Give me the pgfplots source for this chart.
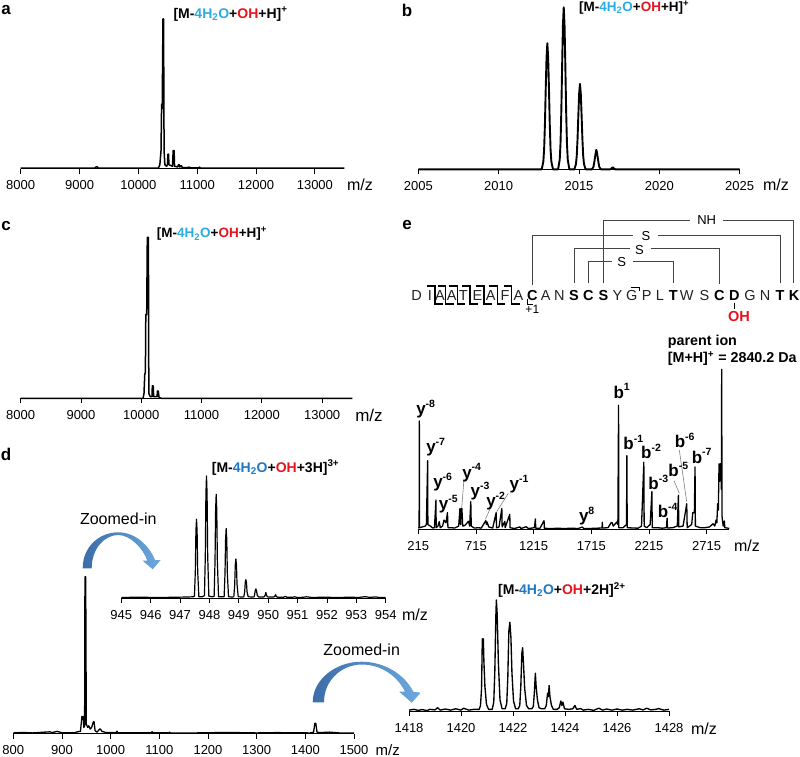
\documentclass[border=0pt]{standalone}
\usepackage{pgfplots}
\pgfplotsset{compat=1.18}
\usepackage{fontspec}
\setmainfont{Liberation Sans}
\definecolor{ioncyan}{HTML}{2BACE2}
\definecolor{ionblue}{HTML}{1F78C4}
\definecolor{ionred}{HTML}{E6141E}
\definecolor{arrowD}{HTML}{3B6DA8}
\definecolor{arrowL}{HTML}{6DA9DF}
\definecolor{linkgray}{HTML}{444444}
\definecolor{seqgray}{HTML}{222222}
\newcommand{\ionlabel}[4]{{\fontsize{#4}{#4}\selectfont\bfseries [M-\textcolor{#1}{4H\textsubscript{2}O}+\textcolor{ionred}{OH}+#2]\textsuperscript{#3}}}
\newcommand{\fs}[1]{\fontsize{#1}{#1}\selectfont}
\newcommand{\frag}[3]{\node[font=\fs{17}\bfseries,inner sep=0pt] at (#1) {#2\raisebox{0.42em}{\fs{10.5}\bfseries #3}};}
\pgfplotsset{
  spec/.style={
    scale only axis, axis x line=bottom, axis line style={-,line width=0.9pt},
    axis y line=none, ymin=0, ymax=100, clip=false,
    tick align=outside, major tick length=5pt,
    x tick style={black,line width=0.9pt},
    xtick pos=bottom, scaled x ticks=false,
    xticklabel style={font=\fs{13},anchor=north,inner sep=0pt,yshift=-6.8pt,
      /pgf/number format/assume math mode=true,/pgf/number format/1000 sep={}},
    /pgf/number format/1000 sep={},
  },
  trace/.style={black,line width=1.5pt,line join=round,no marks,sharp plot},
}
\begin{document}
\begin{tikzpicture}[x=1pt,y=-1pt]
\useasboundingbox (0,0) rectangle (800,757);

% ---------- a
\begin{axis}[spec,at={(20.7pt,-168.5pt)},anchor=south west,width=323.6pt,height=149.5pt,
  xmin=8000,xmax=13500,xtick={8000,9000,10000,11000,12000,13000}]
\addplot[trace] coordinates {(8000,.3)(9260,.3)(9285,1.1)(9300,1.1)(9320,.3)(10340,.3)(10365,2.5)(10385,12)(10395,43)(10405,40)(10418,100)(10428,100)(10437,12)(10450,2.5)(10480,1.5)(10495,3)(10502,9.6)(10512,9.6)(10520,2.5)(10580,1.5)(10592,12)(10607,12)(10615,1.5)(10670,1)(10680,2.5)(10695,2.5)(10705,1)(10725,1.8)(10735,1.8)(10745,.6)(10840,.6)(10860,.9)(10900,.4)(11030,.4)(11040,.9)(11050,.3)(13500,.3)};
\end{axis}
% ---------- b
\begin{axis}[spec,at={(418.3pt,-169.3pt)},anchor=south west,width=321.4pt,height=162pt,
  xmin=2005,xmax=2025,xtick={2005,2010,2015,2020,2025}]
\addplot[black,line width=1.9pt,line join=round,no marks,sharp plot] coordinates {(2005,0)(2012.68,0)(2012.78,4.7)(2012.83,12.4)(2012.88,28)(2012.93,50)(2012.98,69)(2013.03,77.8)(2013.08,69)(2013.13,50)(2013.18,28)(2013.23,12.4)(2013.28,4.7)(2013.38,0)
(2013.70,0)(2013.80,6)(2013.85,16)(2013.90,36)(2013.95,64)(2014.00,89)(2014.05,100)(2014.10,89)(2014.15,64)(2014.20,36)(2014.25,16)(2014.30,6)(2014.40,0)
(2014.71,0)(2014.81,3.2)(2014.86,8.4)(2014.91,19)(2014.96,33.7)(2015.01,47)(2015.06,52.7)(2015.11,47)(2015.16,33.7)(2015.21,19)(2015.26,8.4)(2015.31,3.2)(2015.41,0)
(2015.80,0)(2015.90,1.5)(2015.95,4.3)(2016.00,7.7)(2016.05,10.7)(2016.08,12)(2016.11,10.7)(2016.16,7.7)(2016.21,4.3)(2016.26,1.5)(2016.36,0)
(2016.95,0)(2017.03,.6)(2017.10,1.2)(2017.17,.6)(2017.25,0)(2025,0)};
\end{axis}
% ---------- c
\begin{axis}[spec,at={(20.7pt,-398.3pt)},anchor=south west,width=331.6pt,height=161pt,
  xmin=8000,xmax=13500,xtick={8000,9000,10000,11000,12000,13000}]
\addplot[trace] coordinates {(8000,0)(10030,0)(10045,3)(10058,15)(10068,16)(10075,52)(10090,52)(10100,100)(10118,100)(10125,3)(10150,1)(10178,1)(10183,7.7)(10198,7.7)(10205,1)(10262,1)(10268,4.5)(10282,4.5)(10295,.5)(10330,0)(13500,0)};
\end{axis}
% ---------- d main
\begin{axis}[spec,at={(13.3pt,-733.7pt)},anchor=south west,width=340.7pt,height=157pt,
  xmin=800,xmax=1500,xtick={800,900,1000,1100,1200,1300,1400,1500}]
\addplot[black,line width=1.3pt,line join=round,no marks,sharp plot] coordinates {(800,.5)(820,.8)(840,.5)(860,.9)(875,1.2)(880,.7)(890,1.5)(900,.6)(925,.6)(932,1.2)(938,1.5)(941,11)(943.5,11)(945,4)(946.5,5)(947.2,100)(948.8,100)(950,6)(953,4)(955,5)(958,3)(961,4)(964.5,7.6)(966,7.6)(968,2)(972,1)(977.5,3)(979,3)(982,1.5)(990,.8)(1012,.8)(1013,1.6)(1015,.6)(1084,.6)(1085,1.3)(1087,.6)(1120,.6)(1121,1)(1123,.5)(1175,.5)(1240,.8)(1300,.5)(1340,.7)(1410,.5)(1417,1)(1419.5,6.6)(1421.5,6.6)(1424,1)(1430,.7)(1450,1)(1470,.5)(1500,.5)};
\end{axis}
% ---------- d inset 1
\begin{axis}[spec,at={(121.3pt,-598pt)},anchor=south west,width=264.4pt,height=122pt,
  xmin=945,xmax=954,xtick={945,946,947,948,949,950,951,952,953,954}]
\addplot[black,line width=1.2pt,line join=round,no marks,sharp plot] coordinates {(945,.4)(945.6,.7)(946.2,.4)(946.8,.6)(947.2,.8)(947.45,1)(947.49,1.5)(947.52,22)(947.54,55)(947.56,64.5)(947.58,55)(947.60,22)(947.64,1)(947.76,1)(947.83,2)(947.86,35)(947.88,85)(947.90,100)(947.92,85)(947.94,35)(947.98,1.5)(948.10,1)(948.16,1.5)(948.19,30)(948.21,72)(948.23,85)(948.25,72)(948.27,30)(948.31,1)(948.44,1)(948.50,1)(948.53,20)(948.55,48)(948.57,57)(948.59,48)(948.61,20)(948.65,1)(948.78,.8)(948.83,1)(948.86,11)(948.88,27)(948.90,32)(948.92,27)(948.94,11)(948.98,1)(949.12,.8)(949.17,1)(949.20,5)(949.22,13)(949.24,15)(949.26,13)(949.28,5)(949.32,1)(949.46,.8)(949.52,1)(949.54,3)(949.56,6.3)(949.58,7.4)(949.60,6.3)(949.63,2)(949.68,.8)(949.85,.8)(949.89,1.8)(949.92,4.5)(949.95,1.8)(949.99,.8)(950.18,.8)(950.22,1.2)(950.25,2.7)(950.28,1.2)(950.33,.6)(950.52,.6)(950.58,1.4)(950.64,.6)(950.85,.7)(950.9,1)(951,.4)(951.2,.6)(951.3,1)(951.5,.4)(951.9,.7)(952.3,.4)(952.7,.6)(953.1,.5)(953.3,1.1)(953.45,.5)(953.65,.9)(953.8,.4)(954,.5)};
\end{axis}
% ---------- d inset 2
\begin{axis}[spec,at={(409pt,-711pt)},anchor=south west,width=260pt,height=111pt,
  xmin=1418,xmax=1428,xtick={1418,1420,1422,1424,1426,1428}]
\addplot[black,line width=1.35pt,line join=round,no marks,sharp plot] coordinates {(1418,.8)(1418.2,1.5)(1418.35,.5)(1418.5,1.3)(1418.7,.4)(1418.8,1.5)(1419,1)(1419.1,3)(1419.2,.8)(1419.4,1.8)(1419.6,.8)(1419.8,2)(1420,.8)(1420.1,2.5)(1420.3,.8)(1420.5,1.5)(1420.7,1.5)(1420.75,5)(1420.79,20)(1420.82,65)(1420.86,65)(1420.88,45)(1420.92,22)(1420.98,6)(1421.06,1.5)(1421.2,1.5)(1421.26,8)(1421.3,35)(1421.34,85)(1421.36,100)(1421.39,88)(1421.44,42)(1421.5,10)(1421.58,2)(1421.7,2)(1421.76,7)(1421.8,30)(1421.84,72)(1421.88,80)(1421.92,66)(1421.96,34)(1422.02,9)(1422.1,2)(1422.2,2)(1422.26,5)(1422.3,22)(1422.34,52)(1422.37,57)(1422.4,44)(1422.45,20)(1422.52,5)(1422.6,2)(1422.72,2)(1422.78,4)(1422.82,16)(1422.86,34)(1422.89,22)(1422.94,10)(1423,3)(1423.1,2)(1423.22,2)(1423.28,5)(1423.33,16)(1423.36,13)(1423.39,23)(1423.42,13)(1423.48,5)(1423.55,1.5)(1423.7,1.5)(1423.78,3)(1423.84,9)(1423.88,5)(1423.92,8)(1423.98,2)(1424.15,1.5)(1424.3,2)(1424.38,5)(1424.45,1.5)(1424.6,2.2)(1424.7,.8)(1424.9,1.5)(1425.1,.6)(1425.3,2.5)(1425.45,.8)(1425.6,1.8)(1425.8,.8)(1426,1.8)(1426.2,.8)(1426.4,1.5)(1426.6,.8)(1426.85,2)(1427,1)(1427.15,2.5)(1427.3,1)(1427.5,1.5)(1427.6,2.2)(1427.8,.8)(1428,1.5)};
\end{axis}
% ---------- e spectrum
\begin{axis}[spec,at={(418.3pt,-529.3pt)},anchor=south west,width=311pt,height=160pt,
  xmin=215,xmax=2911,xtick={215,715,1215,1715,2215,2715}]
\addplot[black,line width=1.3pt,line join=round,no marks,sharp plot] coordinates {(215,.8)(222,1)(224,67.7)(226,1)(250,1.5)(275,2)(285,3)(296,42.9)(298,3)(320,2)(340,.8)(355,1)(368,18.3)(370,1)(385,2)(397,4.8)(405,1)(425,2)(438,5.8)(455,4)(468,10.4)(472,1)(500,1)(530,.8)(565,2)(576,13)(582,3)(587,13)(593,13)(600,2)(620,2.5)(650,5)(660,2)(670,17.3)(674,2)(700,.8)(740,1)(760,.7)(800,5.4)(806,3)(812,4.5)(825,1.5)(860,.8)(890,10.4)(893,.9)(915,1.5)(939,13)(942,1.5)(965,5)(968,1)(1008,9.4)(1010,1)(1050,.5)(1095,1.5)(1105,.5)(1150,1.6)(1170,.5)(1222,1)(1230,6.5)(1233,.7)(1270,.7)(1305,5.4)(1308,.6)(1380,.5)(1430,.7)(1480,.4)(1530,.7)(1600,.5)(1637,1.4)(1650,.5)(1700,.5)(1760,.7)(1808,.8)(1810,4.4)(1812,.8)(1860,1)(1885,4)(1895,4.2)(1905,2)(1935,4.5)(1945,3)(1951,77.5)(1953,1)(1990,1)(2020,3)(2023,46)(2026,1)(2080,.8)(2120,.7)(2150,2)(2170,41.9)(2173,2)(2195,1)(2225,3)(2240,23.5)(2243,1)(2290,1)(2330,.7)(2365,1)(2372,6.9)(2375,.8)(2420,1)(2460,2)(2470,21.3)(2473,1.5)(2510,2)(2542,16)(2546,1)(2585,3)(2594,10.4)(2608,10.4)(2614,39)(2617,2)(2660,1)(2700,1)(2740,1.5)(2770,3.5)(2785,2)(2796,5.8)(2803,4)(2810,16)(2816,12)(2822,41)(2828,30)(2833,41)(2838,41)(2842,25)(2845,100)(2848,8)(2858,2)(2868,5.2)(2872,1)(2911,.6)};
\end{axis}

% ---------- panel letters and axis names
\node[font=\fs{17}\bfseries] at (6,10) {a};
\node[font=\fs{17}\bfseries] at (407,10) {b};
\node[font=\fs{17}\bfseries] at (6,226) {c};
\node[font=\fs{17}\bfseries] at (6,454) {d};
\node[font=\fs{17}\bfseries] at (407,225) {e};
\node[font=\fs{16},inner sep=0pt] at (360,185) {m/z};
\node[font=\fs{16},inner sep=0pt] at (776,185) {m/z};
\node[font=\fs{17},inner sep=0pt] at (369,415) {m/z};
\node[font=\fs{16},inner sep=0pt] at (415,614.5) {m/z};
\node[font=\fs{15},inner sep=0pt] at (387.7,750) {m/z};
\node[font=\fs{16},inner sep=0pt] at (704,728.5) {m/z};
\node[font=\fs{16},inner sep=0pt] at (747,546) {m/z};

% ---------- ion labels
\node[anchor=west,inner sep=0pt] at (173.3,14) {\ionlabel{ioncyan}{H}{+}{14}};
\node[anchor=west,inner sep=0pt] at (579,7.5) {\ionlabel{ioncyan}{H}{+}{13.5}};
\node[anchor=west,inner sep=0pt] at (156.7,234) {\ionlabel{ioncyan}{H}{+}{13.5}};
\node[anchor=west,inner sep=0pt] at (211.7,467.5) {\ionlabel{ionblue}{3H}{3+}{14}};
\node[anchor=west,inner sep=0pt] at (498,590) {\ionlabel{ionblue}{2H}{2+}{14}};

% ---------- zoomed-in arrows
\node[font=\fs{16}] at (118.3,518.3) {Zoomed-in};
\node[font=\fs{16}] at (361.7,649.3) {Zoomed-in};
\shade[left color=arrowD,right color=arrowL] (82.7,568.3) .. controls (82.7,548) and (98,532.3) .. (118.3,532.3) .. controls (135,532.3) and (149,545) .. (155,560) -- (160.7,560) -- (152.7,569.3) -- (142.7,560.7) -- (147.3,560.7) .. controls (143,548) and (130,535) .. (118.3,535) .. controls (105,535) and (91.7,548) .. (91.7,568.3) -- cycle;
\shade[left color=arrowD,right color=arrowL] (312.7,702.3) .. controls (312.7,680) and (335,661.7) .. (361.7,661.7) .. controls (385,661.7) and (405,675) .. (413.3,691.7) -- (420.7,692.7) -- (411.7,702.7) -- (399.3,691.7) -- (405,691.7) .. controls (398,677) and (382,664.5) .. (361.7,664.5) .. controls (342,664.5) and (324,680) .. (324,702.3) -- cycle;

% ---------- e: peptide map
\begin{scope}[shift={(400,200)},x=0.33333pt,y=-0.33333pt]
\begin{scope}[linkgray,line width=0.9pt]
\draw (610,248) -- (610,60) -- (870,60);
\draw (970,60) -- (1180,60) -- (1180,248);
\draw (397,255) -- (397,107) -- (700,107);
\draw (775,107) -- (1140,107) -- (1140,248);
\draw (522,248) -- (522,146) -- (690,146);
\draw (752,146) -- (958,146) -- (958,252);
\draw (565,248) -- (565,183) -- (637,183);
\draw (698,183) -- (820,183) -- (820,248);
\end{scope}
\node[font=\fs{13}] at (920,60) {NH};
\node[font=\fs{13}] at (738,107) {S};
\node[font=\fs{13}] at (718,150) {S};
\node[font=\fs{13}] at (665,185) {S};
\foreach \px/\ch in {50/D,90/I,120/A,155/A,190/T,232/E,272/A,315/F,355/A,437/A,478/N,652/Y,695/G,740/P,780/L,860/W,913/S,1050/G,1095/N}
  \node[font=\fs{14.5},text=seqgray] at (\px,288) {\ch};
\foreach \px/\ch in {397/C,522/S,565/C,610/S,820/T,958/C,1003/D,1140/T,1182/K}
  \node[font=\fs{14.5}\bfseries] at (\px,288) {\ch};
\begin{scope}[black,line width=1.1pt]
\foreach \bx in {105,137,172,210,252,292,335}
  \draw (\bx-24,258) -- (\bx,258) -- (\bx,312) -- (\bx+24,312);
\draw (382,298) -- (382,313) -- (400,313);
\draw (692,262) -- (718,262) -- (718,274);
\draw (1003,308) -- (1003,326);
\end{scope}
\node[font=\fs{12}] at (397,329) {+1};
\node[font=\fs{14.5}\bfseries,text=ionred] at (1017,350) {OH};
\end{scope}

% ---------- e: fragment labels
\begin{scope}[shift={(400,330)},x=0.33333pt,y=-0.33333pt]
\draw[gray,line width=0.6pt] (192,447) -- (185,535);
\draw[gray,line width=0.6pt] (270,537) -- (256,568);
\draw[gray,line width=0.6pt] (325,490) -- (290,545);
\draw[gray,line width=0.6pt] (822,452) -- (838,490);
\draw[gray,line width=0.6pt] (838,360) -- (860,515);
\node[font=\fs{14.3}\bfseries,anchor=west,inner sep=0pt] at (803,35) {parent ion};
\node[font=\fs{14.3}\bfseries,anchor=west,inner sep=0pt] at (803,85) {[M+H]\textsuperscript{+} = 2840.2 Da};
\frag{77,238}{y}{-8}
\frag{107,352}{y}{-7}
\frag{128,457}{y}{-6}
\frag{145,523}{y}{-5}
\frag{215,428}{y}{-4}
\frag{240,483}{y}{-3}
\frag{287,512}{y}{-2}
\frag{357,463}{y}{-1}
\frag{560,558}{y}{8}
\frag{665,183}{b}{1}
\frag{700,337}{b}{-1}
\frag{753,363}{b}{-2}
\frag{775,456}{b}{-3}
\frag{803,541}{b}{-4}
\frag{835,418}{b}{-5}
\frag{854,332}{b}{-6}
\frag{905,378}{b}{-7}
\end{scope}
\end{tikzpicture}
\end{document}
